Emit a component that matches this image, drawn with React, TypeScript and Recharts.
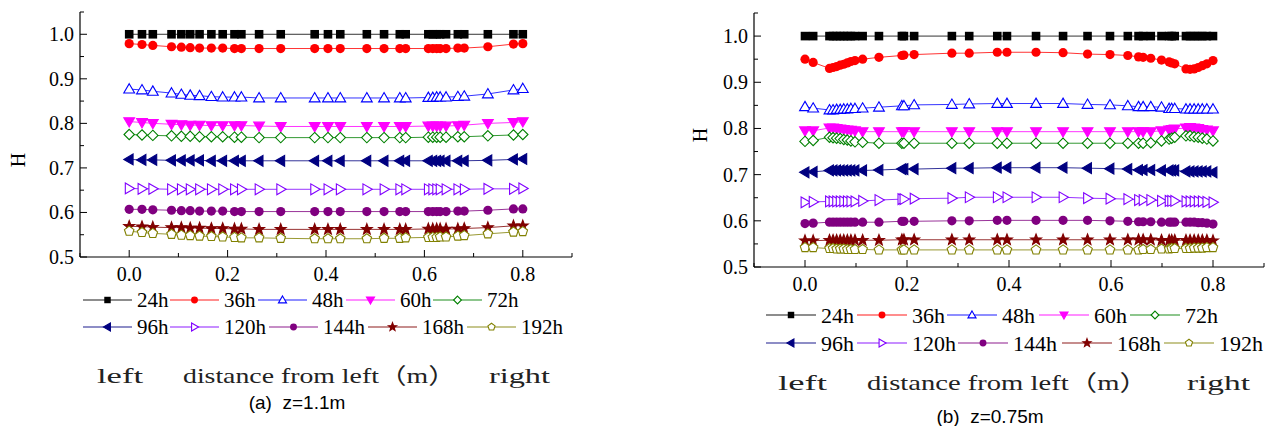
import { LineChart, Line, XAxis, YAxis } from "recharts";

// series
const seriesNames = ["24h", "36h", "48h", "60h", "72h", "96h", "120h", "144h", "168h", "192h"];
const seriesColors = ["#000000", "#FF0000", "#0000FF", "#FF00FF", "#008000", "#000080", "#8000FF", "#800080", "#800000", "#808000"];
const markerKinds = ["square", "circle", "up", "down", "diamond", "left", "right", "circle", "star", "pentagon"];
const markerFilled = [true, true, false, true, false, true, false, true, true, false];

// axis ticks
const xTicks = [-0.1, 0, 0.1, 0.2, 0.3, 0.4, 0.5, 0.6, 0.7, 0.8, 0.9];
const xMajor = [0, 0.2, 0.4, 0.6, 0.8];
const yTicks = [0.5, 0.55, 0.6, 0.65, 0.7, 0.75, 0.8, 0.85, 0.9, 0.95, 1.0, 1.05];
const yMajor = [0.5, 0.6, 0.7, 0.8, 0.9, 1.0];

// (a) z=1.1m
const xA = [0, 0.026, 0.048, 0.086, 0.106, 0.124, 0.143, 0.167, 0.19, 0.214, 0.228, 0.264, 0.308, 0.377, 0.404, 0.429, 0.483, 0.518, 0.55, 0.562, 0.608, 0.617, 0.625, 0.632, 0.644, 0.668, 0.681, 0.729, 0.781, 0.8];
const a24 = [1, 1, 1, 1, 1, 1, 1, 1, 1, 1, 1, 1, 1, 1, 1, 1, 1, 1, 1, 1, 1, 1, 1, 1, 1, 1, 1, 1, 1, 1];
const a36 = [0.979, 0.977, 0.975, 0.972, 0.971, 0.97, 0.969, 0.969, 0.969, 0.968, 0.968, 0.968, 0.968, 0.968, 0.968, 0.968, 0.968, 0.968, 0.968, 0.968, 0.968, 0.968, 0.968, 0.968, 0.968, 0.969, 0.969, 0.972, 0.978, 0.979];
const a48 = [0.877, 0.875, 0.872, 0.868, 0.865, 0.863, 0.862, 0.86, 0.859, 0.859, 0.859, 0.857, 0.857, 0.857, 0.857, 0.857, 0.857, 0.857, 0.857, 0.857, 0.858, 0.858, 0.859, 0.859, 0.859, 0.86, 0.861, 0.866, 0.875, 0.878];
const a60 = [0.804, 0.802, 0.8, 0.798, 0.797, 0.796, 0.796, 0.795, 0.795, 0.795, 0.795, 0.794, 0.793, 0.793, 0.793, 0.793, 0.793, 0.793, 0.793, 0.793, 0.794, 0.794, 0.794, 0.794, 0.794, 0.795, 0.796, 0.8, 0.802, 0.804];
const a72 = [0.775, 0.774, 0.773, 0.772, 0.771, 0.771, 0.77, 0.77, 0.77, 0.769, 0.769, 0.768, 0.768, 0.768, 0.768, 0.768, 0.768, 0.768, 0.768, 0.768, 0.769, 0.769, 0.769, 0.769, 0.769, 0.77, 0.77, 0.772, 0.774, 0.775];
const a96 = [0.719, 0.718, 0.718, 0.717, 0.717, 0.717, 0.717, 0.716, 0.716, 0.716, 0.716, 0.716, 0.716, 0.716, 0.716, 0.716, 0.716, 0.716, 0.716, 0.716, 0.716, 0.716, 0.716, 0.716, 0.716, 0.716, 0.716, 0.717, 0.719, 0.72];
const a120 = [0.654, 0.653, 0.653, 0.652, 0.652, 0.652, 0.652, 0.652, 0.652, 0.652, 0.652, 0.652, 0.652, 0.652, 0.652, 0.652, 0.652, 0.652, 0.652, 0.652, 0.652, 0.652, 0.652, 0.652, 0.652, 0.652, 0.652, 0.653, 0.653, 0.654];
const a144 = [0.607, 0.607, 0.606, 0.605, 0.604, 0.604, 0.603, 0.603, 0.603, 0.602, 0.602, 0.602, 0.602, 0.602, 0.602, 0.602, 0.602, 0.602, 0.602, 0.602, 0.602, 0.602, 0.602, 0.602, 0.602, 0.603, 0.603, 0.605, 0.608, 0.608];
const a168 = [0.569, 0.568, 0.567, 0.566, 0.566, 0.565, 0.565, 0.564, 0.564, 0.563, 0.563, 0.562, 0.562, 0.562, 0.562, 0.562, 0.562, 0.562, 0.562, 0.562, 0.563, 0.563, 0.563, 0.563, 0.563, 0.563, 0.564, 0.566, 0.57, 0.57];
const a192 = [0.558, 0.555, 0.553, 0.551, 0.549, 0.548, 0.547, 0.546, 0.545, 0.544, 0.543, 0.543, 0.542, 0.541, 0.541, 0.541, 0.541, 0.542, 0.542, 0.543, 0.544, 0.544, 0.544, 0.545, 0.545, 0.547, 0.548, 0.552, 0.556, 0.557];

// (b) z=0.75m
const xB = [0, 0.016, 0.048, 0.055, 0.062, 0.069, 0.076, 0.083, 0.09, 0.098, 0.113, 0.145, 0.19, 0.194, 0.214, 0.288, 0.322, 0.377, 0.396, 0.453, 0.506, 0.554, 0.598, 0.633, 0.654, 0.663, 0.678, 0.699, 0.714, 0.719, 0.725, 0.747, 0.755, 0.763, 0.771, 0.779, 0.788, 0.8];
const b24 = [1, 1, 1, 1, 1, 1, 1, 1, 1, 1, 1, 1, 1, 1, 1, 1, 1, 1, 1, 1, 1, 1, 1, 1, 1, 1, 1, 1, 1, 1, 1, 1, 1, 1, 1, 1, 1, 1];
const b36 = [0.95, 0.943, 0.93, 0.932, 0.934, 0.937, 0.939, 0.942, 0.945, 0.947, 0.95, 0.954, 0.958, 0.959, 0.96, 0.963, 0.963, 0.965, 0.965, 0.965, 0.964, 0.961, 0.96, 0.958, 0.955, 0.954, 0.952, 0.948, 0.944, 0.942, 0.94, 0.929, 0.928, 0.929, 0.932, 0.936, 0.94, 0.947];
const b48 = [0.847, 0.844, 0.84, 0.84, 0.841, 0.841, 0.842, 0.842, 0.843, 0.843, 0.844, 0.846, 0.849, 0.849, 0.851, 0.852, 0.853, 0.854, 0.854, 0.854, 0.854, 0.852, 0.851, 0.849, 0.847, 0.847, 0.847, 0.846, 0.843, 0.843, 0.843, 0.842, 0.842, 0.842, 0.842, 0.842, 0.842, 0.842];
const b60 = [0.795, 0.795, 0.801, 0.801, 0.8, 0.799, 0.798, 0.797, 0.796, 0.795, 0.793, 0.793, 0.793, 0.793, 0.793, 0.793, 0.793, 0.793, 0.793, 0.793, 0.793, 0.793, 0.793, 0.793, 0.793, 0.793, 0.793, 0.795, 0.797, 0.798, 0.799, 0.801, 0.802, 0.801, 0.8, 0.798, 0.797, 0.795];
const b72 = [0.772, 0.774, 0.781, 0.78, 0.779, 0.778, 0.776, 0.775, 0.773, 0.771, 0.77, 0.768, 0.768, 0.768, 0.768, 0.768, 0.768, 0.768, 0.768, 0.768, 0.768, 0.768, 0.768, 0.768, 0.768, 0.768, 0.769, 0.773, 0.777, 0.779, 0.781, 0.784, 0.784, 0.782, 0.781, 0.779, 0.777, 0.773];
const b96 = [0.705, 0.706, 0.709, 0.709, 0.709, 0.709, 0.709, 0.709, 0.709, 0.709, 0.709, 0.71, 0.712, 0.712, 0.712, 0.714, 0.714, 0.715, 0.715, 0.715, 0.715, 0.714, 0.713, 0.712, 0.71, 0.71, 0.71, 0.709, 0.709, 0.709, 0.709, 0.707, 0.707, 0.707, 0.707, 0.707, 0.707, 0.705];
const b120 = [0.64, 0.641, 0.642, 0.642, 0.642, 0.642, 0.642, 0.642, 0.642, 0.642, 0.643, 0.645, 0.647, 0.647, 0.648, 0.649, 0.651, 0.651, 0.651, 0.651, 0.651, 0.649, 0.648, 0.647, 0.645, 0.645, 0.645, 0.643, 0.643, 0.643, 0.643, 0.642, 0.642, 0.642, 0.642, 0.642, 0.641, 0.64];
const b144 = [0.594, 0.595, 0.597, 0.597, 0.597, 0.597, 0.597, 0.597, 0.597, 0.597, 0.597, 0.597, 0.599, 0.599, 0.599, 0.6, 0.6, 0.601, 0.601, 0.601, 0.601, 0.601, 0.6, 0.599, 0.598, 0.598, 0.598, 0.597, 0.597, 0.597, 0.597, 0.597, 0.597, 0.597, 0.596, 0.596, 0.595, 0.593];
const b168 = [0.557, 0.557, 0.558, 0.558, 0.558, 0.558, 0.558, 0.558, 0.558, 0.558, 0.558, 0.558, 0.559, 0.559, 0.559, 0.559, 0.559, 0.559, 0.559, 0.559, 0.559, 0.559, 0.559, 0.559, 0.559, 0.559, 0.559, 0.558, 0.558, 0.558, 0.558, 0.558, 0.558, 0.558, 0.558, 0.558, 0.558, 0.557];
const b192 = [0.542, 0.542, 0.54, 0.54, 0.539, 0.539, 0.539, 0.538, 0.538, 0.538, 0.538, 0.537, 0.537, 0.537, 0.537, 0.537, 0.537, 0.537, 0.537, 0.537, 0.537, 0.537, 0.537, 0.537, 0.537, 0.538, 0.538, 0.539, 0.539, 0.54, 0.54, 0.54, 0.54, 0.541, 0.541, 0.541, 0.542, 0.542];

const seriesA = [a24, a36, a48, a60, a72, a96, a120, a144, a168, a192];
const seriesB = [b24, b36, b48, b60, b72, b96, b120, b144, b168, b192];

function buildRows(xs: number[], series: number[][]) {
  return xs.map((x, i) => {
    const row: Record<string, number> = { x };
    seriesNames.forEach((n, k) => (row[n] = series[k][i]));
    return row;
  });
}

const rowsA = buildRows(xA, seriesA);
const rowsB = buildRows(xB, seriesB);

const same = (a: number, list: number[]) => list.some((v) => Math.abs(v - a) < 1e-6);

const serif = '"Liberation Serif", "Times New Roman", serif';
const serifCjk = '"Liberation Serif", "Noto Sans CJK SC", serif';
const sans = '"Liberation Sans", Arial, sans-serif';

// marker half-sizes per shape
const markerSize: Record<string, number> = { square: 4.3, circle: 4.6, up: 5.4, down: 5.4, left: 5.4, right: 5.4, diamond: 5.2, pentagon: 5, star: 5 };

function Marker({ kind, cx, cy, color, filled, scale = 1 }: any) {
  if (cx == null || cy == null) return null;
  const s = markerSize[kind] * scale;
  const fill = filled ? color : "#fff";
  const common = { fill, stroke: color, strokeWidth: 1.1 };
  switch (kind) {
    case "square":
      return <rect x={cx - s} y={cy - s} width={2 * s} height={2 * s} fill={color} />;
    case "circle":
      return <circle cx={cx} cy={cy} r={s} fill={color} />;
    case "up":
      return <polygon points={`${cx},${cy - s} ${cx + s},${cy + s * 0.72} ${cx - s},${cy + s * 0.72}`} {...common} />;
    case "down":
      return <polygon points={`${cx},${cy + s} ${cx + s},${cy - s * 0.72} ${cx - s},${cy - s * 0.72}`} {...common} />;
    case "left":
      return <polygon points={`${cx - s},${cy} ${cx + s * 0.72},${cy - s} ${cx + s * 0.72},${cy + s}`} {...common} />;
    case "right":
      return <polygon points={`${cx + s},${cy} ${cx - s * 0.72},${cy - s} ${cx - s * 0.72},${cy + s}`} {...common} />;
    case "diamond":
      return <polygon points={`${cx},${cy - s} ${cx + s},${cy} ${cx},${cy + s} ${cx - s},${cy}`} {...common} />;
    case "pentagon": {
      const pts = [0, 1, 2, 3, 4]
        .map((k) => {
          const a = (-90 + 72 * k) * (Math.PI / 180);
          return `${cx + s * Math.cos(a)},${cy + s * Math.sin(a)}`;
        })
        .join(" ");
      return <polygon points={pts} {...common} />;
    }
    case "star": {
      const pts = Array.from({ length: 10 }, (_, k) => {
        const r = k % 2 === 0 ? s * 1.15 : s * 0.48;
        const a = (-90 + 36 * k) * (Math.PI / 180);
        return `${cx + r * Math.cos(a)},${cy + r * Math.sin(a)}`;
      }).join(" ");
      return <polygon points={pts} {...common} />;
    }
  }
  return null;
}

type PanelProps = {
  rows: Record<string, number>[];
  width: number;
  height: number;
  yAxisWidth: number;
  xAxisHeight: number;
  top: number;
  right: number;
  id: string;
};

function Panel({ rows, width, height, yAxisWidth, xAxisHeight, top, right, id }: PanelProps) {
  const axisY = height - xAxisHeight;
  const YTick = (p: any) => {
    const v = p.payload.value;
    const major = same(v, yMajor);
    return (
      <g>
        <line x1={yAxisWidth} x2={yAxisWidth + (major ? 7 : 4)} y1={p.y} y2={p.y} stroke="#000" strokeWidth={1} />
        {major && (
          <text x={yAxisWidth - 6} y={p.y} textAnchor="end" dominantBaseline="central" style={{ fontFamily: serif, fontSize: 20 }} fill="#000">
            {v.toFixed(1)}
          </text>
        )}
      </g>
    );
  };
  const XTick = (p: any) => {
    const v = p.payload.value;
    const major = same(v, xMajor);
    return (
      <g>
        <line x1={p.x} x2={p.x} y1={axisY} y2={axisY - (major ? 7 : 4)} stroke="#000" strokeWidth={1} />
        {major && (
          <text x={p.x} y={axisY + 17} textAnchor="middle" dominantBaseline="central" style={{ fontFamily: serif, fontSize: 20 }} fill="#000">
            {v.toFixed(1)}
          </text>
        )}
      </g>
    );
  };
  return (
    <LineChart width={width} height={height} data={rows} margin={{ top, right, left: 0, bottom: 0 }}>
      <XAxis
        dataKey="x"
        type="number"
        domain={[-0.1, 0.9]}
        ticks={xTicks}
        interval={0}
        allowDataOverflow
        height={xAxisHeight}
        axisLine={{ stroke: "#000", strokeWidth: 1.2 }}
        tickLine={false}
        tick={XTick}
      />
      <YAxis
        type="number"
        domain={[0.5, 1.05]}
        ticks={yTicks}
        interval={0}
        allowDataOverflow
        width={yAxisWidth}
        axisLine={{ stroke: "#000", strokeWidth: 1.2 }}
        tickLine={false}
        tick={YTick}
      />
      {seriesNames.map((n, k) => (
        <Line
          key={n}
          dataKey={n}
          type="linear"
          stroke={seriesColors[k]}
          strokeOpacity={0.8}
          strokeWidth={1}
          isAnimationActive={false}
          dot={(p: any) => (
            <Marker key={`${id}-${n}-${p.index}`} kind={markerKinds[k]} cx={p.cx} cy={p.cy} color={seriesColors[k]} filled={markerFilled[k]} />
          )}
          activeDot={false}
        />
      ))}
    </LineChart>
  );
}

function LegendRows({ rows, starts, lineLen, fontSize }: { rows: number[]; starts: number[][]; lineLen: number; fontSize: number }) {
  return (
    <g>
      {seriesNames.map((n, k) => {
        const r = Math.floor(k / 5);
        const x = starts[r][k % 5];
        const y = rows[r];
        return (
          <g key={n}>
            <line x1={x} x2={x + lineLen} y1={y} y2={y} stroke={seriesColors[k]} strokeOpacity={0.6} strokeWidth={1.5} />
            <Marker kind={markerKinds[k]} cx={x + lineLen / 2} cy={y} color={seriesColors[k]} filled={markerFilled[k]} scale={0.75} />
            <text x={x + lineLen + 5} y={y} dominantBaseline="central" style={{ fontFamily: serif, fontSize }} fill="#000">
              {n}
            </text>
          </g>
        );
      })}
    </g>
  );
}

export default function App() {
  return (
    <div style={{ position: "absolute", left: 0, top: 0, width: 1266, height: 426, background: "#fff", overflow: "hidden" }}>
      <div style={{ position: "absolute", left: 0, top: 0 }}>
        <Panel id="a" rows={rowsA} width={600} height={292} yAxisWidth={80} xAxisHeight={35} top={12} right={28} />
      </div>
      <div style={{ position: "absolute", left: 680, top: 0 }}>
        <Panel id="b" rows={rowsB} width={586} height={302} yAxisWidth={74} xAxisHeight={35} top={13} right={2} />
      </div>
      <svg width={1266} height={426} style={{ position: "absolute", left: 0, top: 0, pointerEvents: "none" }}>
        <text x={18} y={160} transform="rotate(-90 18 160)" textAnchor="middle" dominantBaseline="central" style={{ fontFamily: serif, fontSize: 20 }}>
          H
        </text>
        <text x={700} y={135} transform="rotate(-90 700 135)" textAnchor="middle" dominantBaseline="central" style={{ fontFamily: serif, fontSize: 20 }}>
          H
        </text>

        <LegendRows rows={[300, 327]} starts={[[83, 170, 258, 346, 433], [83, 170, 269, 368, 467]]} lineLen={49} fontSize={21} />
        <LegendRows rows={[315, 343]} starts={[[766, 857, 947, 1039, 1130], [766, 857, 958, 1062, 1164]]} lineLen={50} fontSize={22} />

        <g style={{ fontFamily: serifCjk, fontSize: 22 }} fill="#222">
          <text x={97} y={375} dominantBaseline="central" textLength={46} lengthAdjust="spacingAndGlyphs">left</text>
          <text x={183} y={375} dominantBaseline="central" textLength={273} lengthAdjust="spacingAndGlyphs">distance from left（m）</text>
          <text x={489} y={375} dominantBaseline="central" textLength={61} lengthAdjust="spacingAndGlyphs">right</text>
          <text x={778} y={382} dominantBaseline="central" textLength={49} lengthAdjust="spacingAndGlyphs">left</text>
          <text x={867} y={382} dominantBaseline="central" textLength={281} lengthAdjust="spacingAndGlyphs">distance from left（m）</text>
          <text x={1187} y={382} dominantBaseline="central" textLength={63} lengthAdjust="spacingAndGlyphs">right</text>
        </g>
        <g style={{ fontFamily: sans, fontSize: 19 }} fill="#000">
          <text x={297} y={402} textAnchor="middle" dominantBaseline="central" style={{ whiteSpace: "pre" }}>(a)  z=1.1m</text>
          <text x={990} y={416} textAnchor="middle" dominantBaseline="central" style={{ whiteSpace: "pre" }}>(b)  z=0.75m</text>
        </g>
      </svg>
    </div>
  );
}
